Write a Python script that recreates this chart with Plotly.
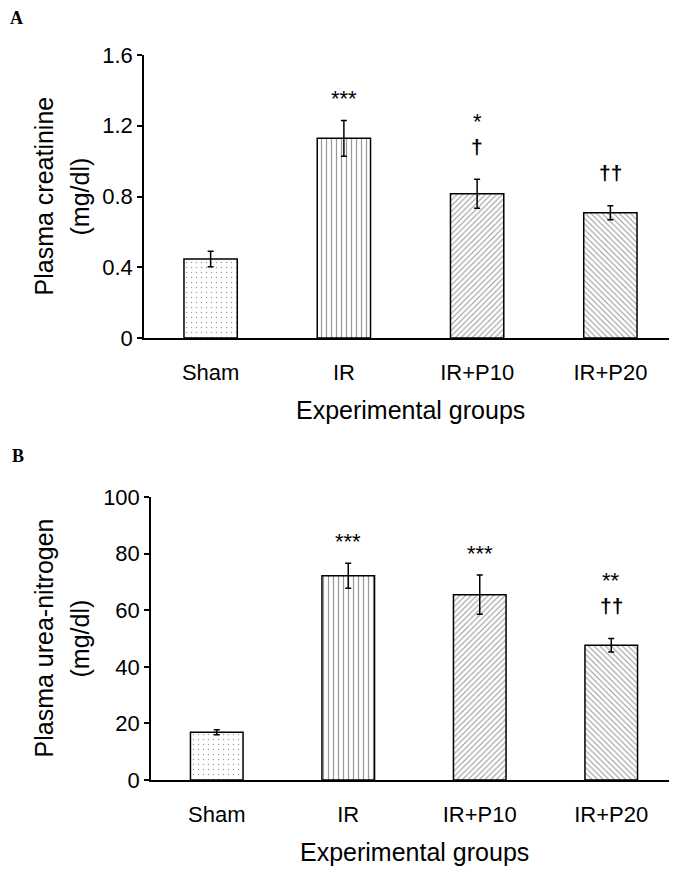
import plotly.graph_objects as go

groups = ["Sham", "IR", "IR+P10", "IR+P20"]

creat_mean = [0.447, 1.129, 0.816, 0.708]
creat_sem = [0.044, 0.101, 0.082, 0.040]
creat_star = ["", "***", "*", ""]
creat_dagger = ["", "", "†", "††"]

bun_mean = [16.9, 72.2, 65.5, 47.6]
bun_sem = [0.9, 4.4, 6.9, 2.4]
bun_star = ["", "***", "***", "**"]
bun_dagger = ["", "", "", "††"]

creat_ticks = [0, 0.4, 0.8, 1.2, 1.6]
bun_ticks = [0, 20, 40, 60, 80, 100]

patterns = [".", "|", "/", "\\"]
pat_size = [5, 5, 4, 4]
pat_solid = [0.06, 0.25, 0.28, 0.28]

# page body has an 8px default margin; lay out in page pixels and convert
OFF = 8
W, H = 677 - OFF, 874 - OFF
FONT = "Liberation Sans, Arial, sans-serif"

fig = go.Figure()


def add_panel(means, sems, xa, ya):
    fig.add_trace(go.Bar(
        x=groups, y=means, xaxis=xa, yaxis=ya, width=0.4,
        marker=dict(color="white", line=dict(color="black", width=1.5),
                    pattern=dict(shape=patterns, size=pat_size, solidity=pat_solid,
                                 fgcolor="#333333", bgcolor="white", fillmode="overlay")),
        error_y=dict(type="data", array=sems, visible=True, color="black",
                     thickness=1.5, width=3),
        showlegend=False, hoverinfo="skip"))


add_panel(creat_mean, creat_sem, "x", "y")
add_panel(bun_mean, bun_sem, "x2", "y2")


def fx(px):
    return (px - OFF) / W


def fy(py):
    return 1 - (py - OFF) / H


def px_x(a, b):
    return [fx(a), min(1.0, fx(b))]


def px_y(top, bottom):
    return [fy(bottom), fy(top)]


axis_common = dict(showline=True, linecolor="black", linewidth=1.5, automargin=False,
                   showgrid=False, zeroline=False, mirror=False)
TICK = 22
TITLE = 25

fig.update_layout(
    width=W, height=H, margin=dict(l=0, r=0, t=0, b=0, autoexpand=False),
    plot_bgcolor="white", paper_bgcolor="white",
    font=dict(family=FONT, color="black"),
    showlegend=False,
    xaxis=dict(domain=px_x(144, 677), anchor="y", range=[-0.5, 3.5],
               ticks="", tickfont=dict(size=TICK, family=FONT), ticklabelstandoff=14,
               **axis_common),
    yaxis=dict(domain=px_y(55, 338), anchor="x", range=[0, 1.6], tickvals=creat_ticks,
               ticktext=[("%g" % v) for v in creat_ticks],
               ticks="outside", ticklen=5, tickwidth=1.5, tickcolor="black",
               tickfont=dict(size=TICK, family=FONT), **axis_common),
    xaxis2=dict(domain=px_x(151, 677), anchor="y2", range=[-0.5, 3.5],
                ticks="", tickfont=dict(size=TICK, family=FONT), ticklabelstandoff=14,
                **axis_common),
    yaxis2=dict(domain=px_y(497, 780), anchor="x2", range=[0, 100], tickvals=bun_ticks,
                ticks="outside", ticklen=5, tickwidth=1.5, tickcolor="black",
                tickfont=dict(size=TICK, family=FONT), **axis_common),
)

ann = []
C = dict(xanchor="center", yanchor="middle", xref="paper", yref="paper", showarrow=False)
# panel letters
ann.append(dict(text="<b>A</b>", x=fx(16), y=fy(18), **C,
                font=dict(family="Liberation Serif, Times New Roman, serif", size=18)))
ann.append(dict(text="<b>B</b>", x=fx(18), y=fy(456), **C,
                font=dict(family="Liberation Serif, Times New Roman, serif", size=18)))
# x titles
for xc, yc in [((144 + 677) / 2, 410), ((151 + 677) / 2, 852)]:
    ann.append(dict(text="Experimental groups", x=fx(xc), y=fy(yc), **C,
                    font=dict(size=TITLE, family=FONT)))
# y titles
for (l1, l2, top, bottom) in [("Plasma creatinine", "(mg/dl)", 55, 338),
                              ("Plasma urea-nitrogen", "(mg/dl)", 497, 780)]:
    yc = fy((top + bottom) / 2)
    ann.append(dict(text=l1, x=fx(43), y=yc, textangle=-90, **C,
                    font=dict(size=TITLE, family=FONT)))
    ann.append(dict(text=l2, x=fx(79), y=yc, textangle=-90, **C,
                    font=dict(size=TITLE, family=FONT)))


def sig(means, sems, stars, daggers, xr, yr):
    D = dict(xanchor="center", yanchor="middle", showarrow=False, xref=xr, yref=yr)
    for g, m, s, st, dg in zip(groups, means, sems, stars, daggers):
        top = m + s
        if dg:
            ann.append(dict(text="<b>" + dg + "</b>", x=g, y=top, yshift=33, **D,
                            font=dict(size=21, family=FONT)))
            if st:
                ann.append(dict(text=st, x=g, y=top, yshift=58, **D,
                                font=dict(size=22, family=FONT)))
        elif st:
            ann.append(dict(text=st, x=g, y=top, yshift=22, **D,
                            font=dict(size=22, family=FONT)))


sig(creat_mean, creat_sem, creat_star, creat_dagger, "x", "y")
sig(bun_mean, bun_sem, bun_star, bun_dagger, "x2", "y2")

fig.update_layout(annotations=ann)
fig.write_html("out.html")
